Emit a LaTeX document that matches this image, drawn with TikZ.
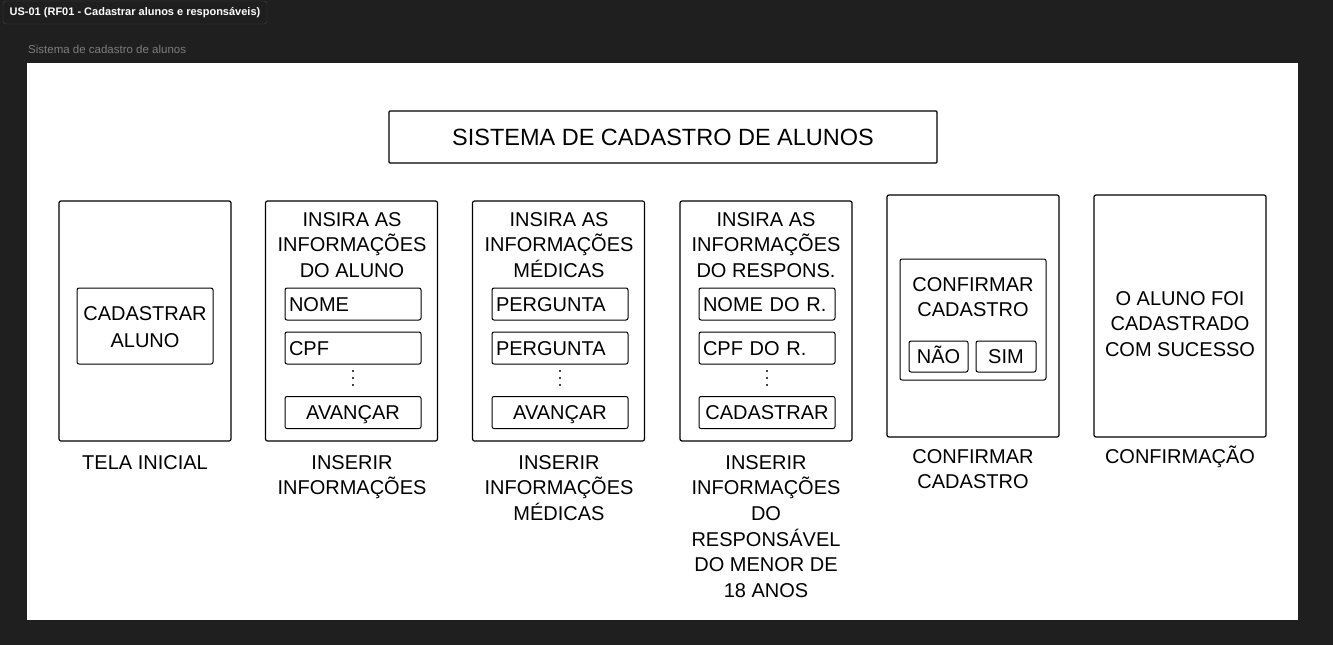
\documentclass[tikz,border=0pt]{standalone}
\usepackage{fontspec}
\setmainfont{Liberation Sans}
\begin{document}
\begin{tikzpicture}[x=1pt,y=-1pt,
  base/.style={font=\fontsize{20}{25.7}\selectfont, text=black},
  screen/.style={draw=black, line width=1.2pt, rounded corners=2pt, fill=white, minimum width=172pt, inner sep=0pt},
  field/.style={base, draw=black, line width=1pt, rounded corners=2pt, minimum width=136pt, minimum height=32pt, inner sep=0pt, text height=14.3pt, text depth=0pt},
  lbl/.style={base, align=center, inner sep=0pt},
  dotc/.style={fill=black, draw=none}
]
\useasboundingbox (0,0) rectangle (1333,645);
\fill[fill={rgb,255:red,31;green,31;blue,31}] (0,0) rectangle (1333,645);
% header tag
\node[draw={rgb,255:red,68;green,68;blue,68}, rounded corners=3pt, minimum width=264pt, minimum height=23pt, inner sep=0pt,
  font=\fontsize{11}{13}\selectfont\bfseries, text=white] (tag) at (135,12.5) {US-01 (RF01 - Cadastrar alunos e responsáveis)};
\node[anchor=west, inner sep=0pt, font=\fontsize{11.5}{13}\selectfont, text={rgb,255:red,125;green,125;blue,125}] (fname) at (28,49) {Sistema de cadastro de alunos};
% frame
\node[fill=white, minimum width=1271pt, minimum height=557pt, inner sep=0pt, anchor=north west] (frame) at (27,63) {};
% title
\node[draw=black, line width=1.2pt, rounded corners=1pt, minimum width=548pt, minimum height=52pt, inner sep=0pt,
  font=\fontsize{23.5}{28}\selectfont, text height=17pt, text depth=0pt] (title) at (663,137) {SISTEMA DE CADASTRO DE ALUNOS};

% screen 1
\node[screen, minimum height=240pt] (s1) at (145,321) {};
\node[base, draw=black, line width=1pt, rounded corners=2pt, minimum width=136pt, minimum height=76pt, inner sep=0pt] (b1) at (145,326) {};
\node[lbl, anchor=base, font=\fontsize{20}{27}\selectfont] (b1t) at (145,347) {CADASTRAR\\ALUNO};
\node[lbl, anchor=base] (l1) at (145,469) {TELA INICIAL};

% screen 2
\node[screen, minimum height=240pt] (s2) at (351.5,321) {};
\node[lbl, anchor=base] (t2) at (352,277.4) {INSIRA AS\\INFORMAÇÕES\\DO ALUNO};
\node[field, text width=128pt, align=left] (f21) at (353,304) {NOME};
\node[field, text width=128pt, align=left] (f22) at (353,348) {CPF};
\node[field] (f23) at (353,412.5) {AVANÇAR};
\foreach \yy in {371,378,385} \fill[dotc] (353,\yy) circle (1.2pt);
\node[lbl, anchor=base] (l2) at (352,494.7) {INSERIR\\INFORMAÇÕES};

% screen 3
\node[screen, minimum height=240pt] (s3) at (558.5,321) {};
\node[lbl, anchor=base] (t3) at (559,277.4) {INSIRA AS\\INFORMAÇÕES\\MÉDICAS};
\node[field, text width=128pt, align=left] (f31) at (560,304) {PERGUNTA};
\node[field, text width=128pt, align=left] (f32) at (560,348) {PERGUNTA};
\node[field] (f33) at (560,412.5) {AVANÇAR};
\foreach \yy in {371,378,385} \fill[dotc] (560,\yy) circle (1.2pt);
\node[lbl, anchor=base] (l3) at (559,520.4) {INSERIR\\INFORMAÇÕES\\MÉDICAS};

% screen 4
\node[screen, minimum height=240pt] (s4) at (766,321) {};
\node[lbl, anchor=base] (t4) at (766,277.4) {INSIRA AS\\INFORMAÇÕES\\DO RESPONS.};
\node[field, text width=128pt, align=left] (f41) at (767,304) {NOME DO R.};
\node[field, text width=128pt, align=left] (f42) at (767,348) {CPF DO R.};
\node[field] (f43) at (767,412.5) {CADASTRAR};
\foreach \yy in {371,378,385} \fill[dotc] (767,\yy) circle (1.2pt);
\node[lbl, anchor=base] (l4) at (766,597.5) {INSERIR\\INFORMAÇÕES\\DO\\RESPONSÁVEL\\DO MENOR DE\\18 ANOS};

% screen 5
\node[screen, minimum height=242pt] (s5) at (973,316) {};
\node[base, draw=black, line width=1pt, rounded corners=2pt, minimum width=146pt, minimum height=121pt, inner sep=0pt] (b5) at (973,319.5) {};
\node[lbl, anchor=base] (t5) at (973,316.7) {CONFIRMAR\\CADASTRO};
\node[field, minimum width=59pt, minimum height=31pt] (nao) at (938.5,356.5) {NÃO};
\node[field, minimum width=60pt, minimum height=31pt] (sim) at (1006,356.5) {SIM};
\node[lbl, anchor=base] (l5) at (973,488.7) {CONFIRMAR\\CADASTRO};

% screen 6
\node[screen, minimum height=242pt] (s6) at (1180,316) {};
\node[lbl, anchor=base] (t6) at (1180,356.4) {O ALUNO FOI\\CADASTRADO\\COM SUCESSO};
\node[lbl, anchor=base] (l6) at (1180,463) {CONFIRMAÇÃO};
\end{tikzpicture}
\end{document}
